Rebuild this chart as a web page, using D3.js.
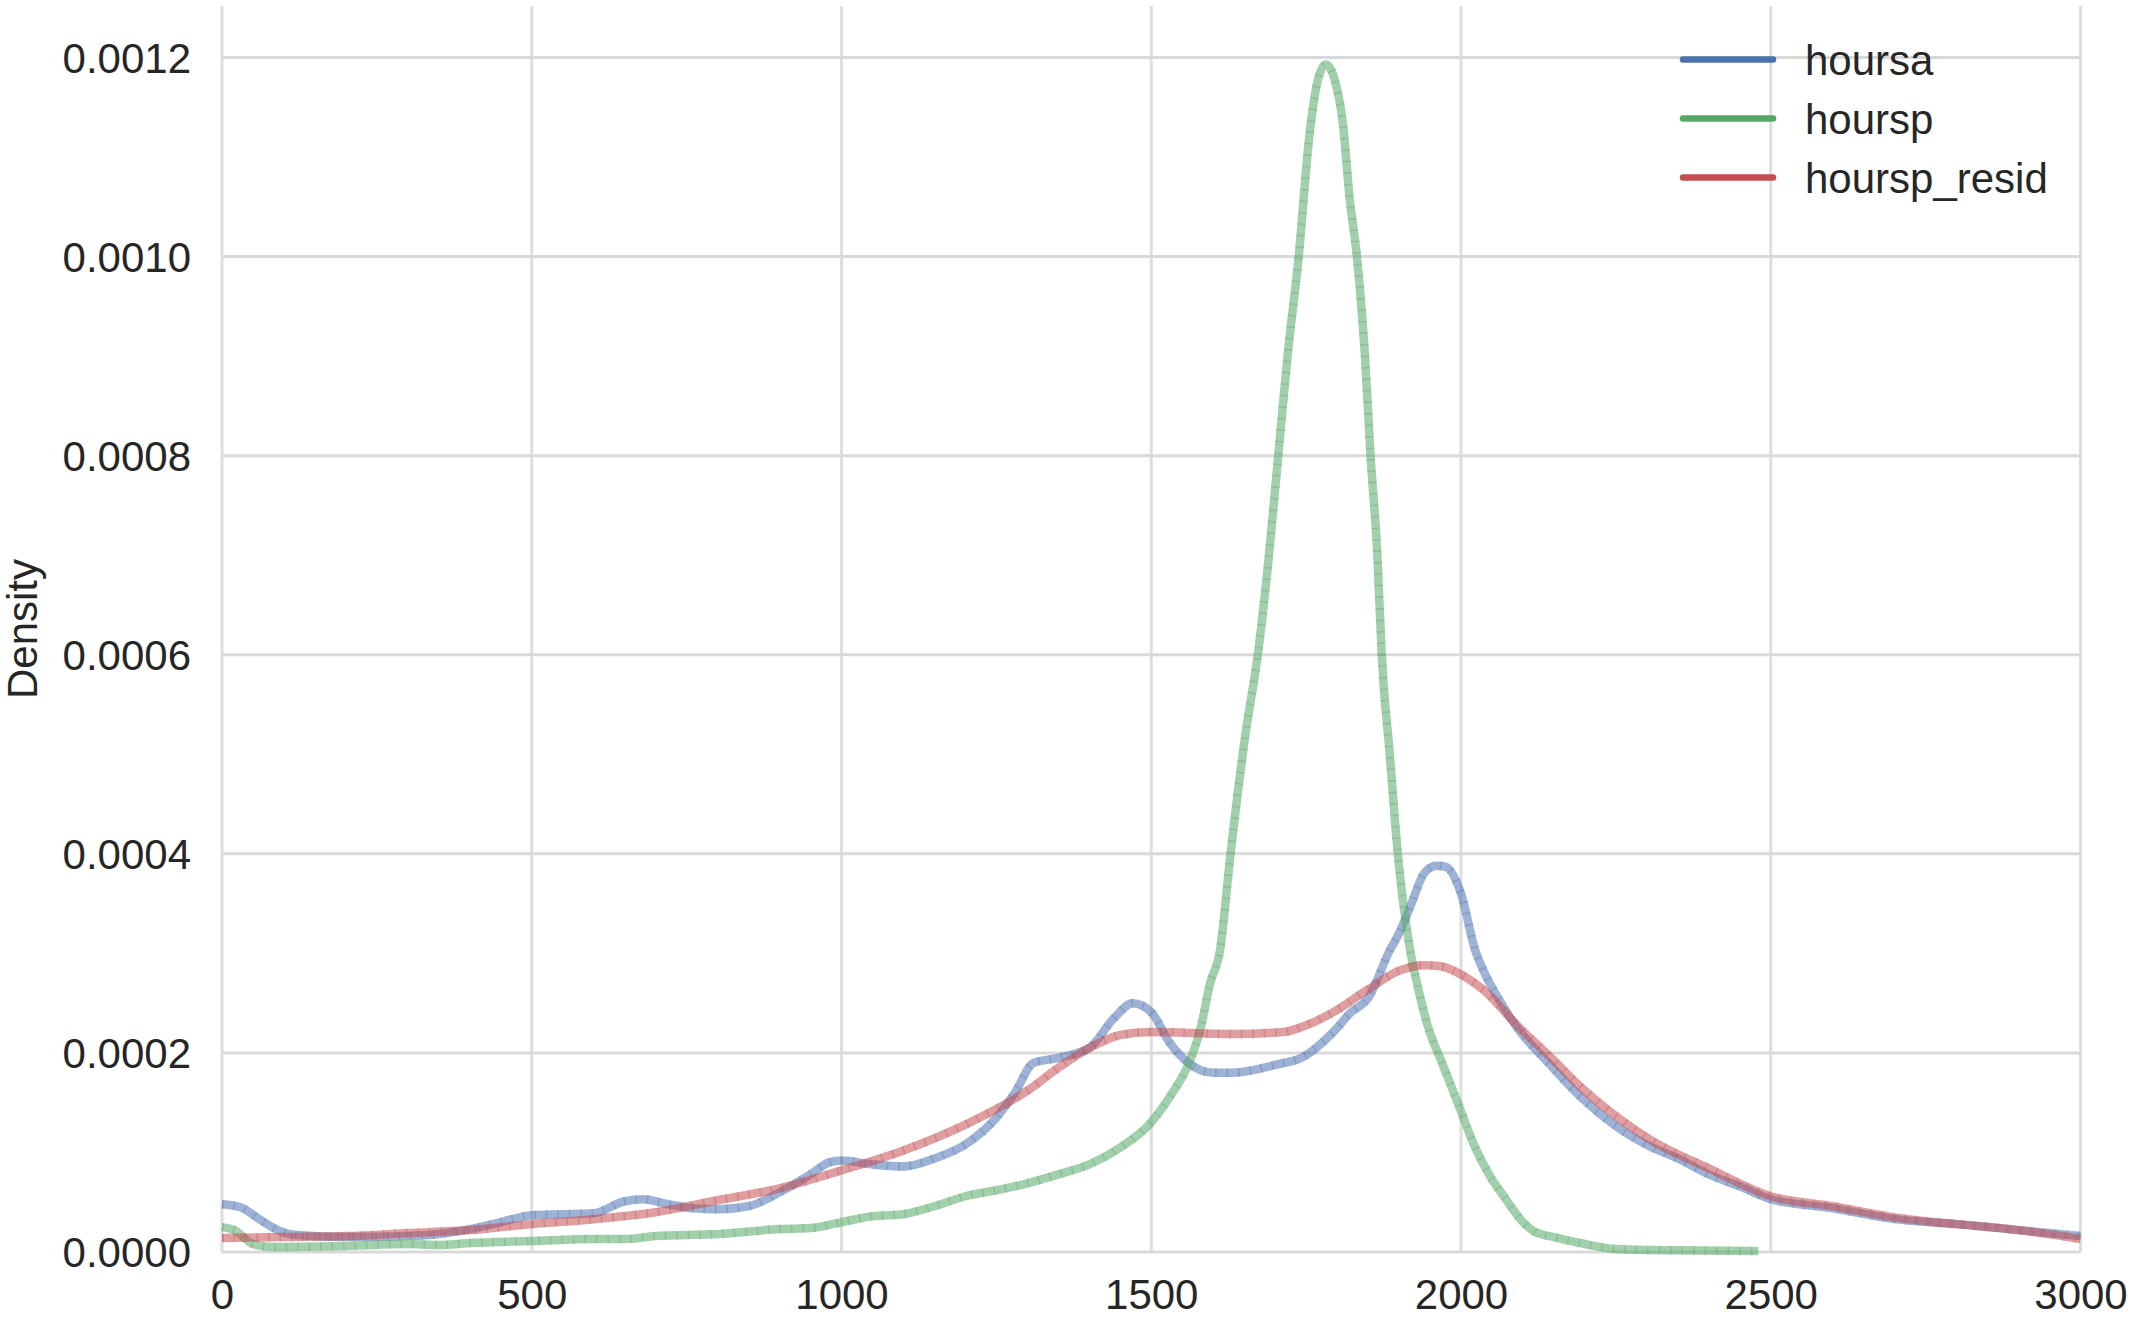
<!DOCTYPE html>
<html><head><meta charset="utf-8">
<script src="https://cdn.jsdelivr.net/npm/d3@7"></script>
<style>html,body{margin:0;padding:0;background:#fff;}svg{display:block;}</style>
</head><body>
<script>
const seriesNames = ["hoursa", "hoursp", "hoursp_resid"];
const seriesColors = ["#4c72b0", "#55a868", "#c44e52"];
const xTicks = [0, 500, 1000, 1500, 2000, 2500, 3000];
const yTicks = [0, 0.0002, 0.0004, 0.0006, 0.0008, 0.0010, 0.0012];

const hoursaX = [0,30,60,90,120,200,300,350,400,450,500,550,600,650,680,720,760,800,850,900,950,980,1000,1050,1100,1150,1200,1250,1280,1310,1350,1400,1440,1470,1500,1530,1560,1600,1627,1700,1745,1800,1821,1850,1885,1900,1920,1940,1960,1975,2000,2023,2036,2060,2090,2144,2198,2251,2305,2350,2400,2450,2500,2600,2700,2800,2870,2900,3000];
const hoursaY = [4.8e-5,4.5e-5,3.3e-5,2.2e-5,1.7e-5,1.5e-5,1.6e-5,1.8e-5,2.3e-5,3.0e-5,3.7e-5,3.8e-5,3.9e-5,5.1e-5,5.3e-5,4.8e-5,4.4e-5,4.3e-5,4.6e-5,6.0e-5,7.8e-5,9.0e-5,9.2e-5,8.8e-5,8.6e-5,9.4e-5,1.08e-4,1.35e-4,1.6e-4,1.9e-4,1.95e-4,2.05e-4,2.35e-4,2.5e-4,2.41e-4,2.1e-4,1.9e-4,1.8e-4,1.8e-4,1.88e-4,1.96e-4,2.25e-4,2.4e-4,2.55e-4,3.03e-4,3.2e-4,3.5e-4,3.8e-4,3.88e-4,3.87e-4,3.6e-4,3.03e-4,2.83e-4,2.55e-4,2.26e-4,1.88e-4,1.53e-4,1.26e-4,1.06e-4,9.4e-5,7.8e-5,6.6e-5,5.3e-5,4.4e-5,3.3e-5,2.8e-5,2.4e-5,2.2e-5,1.6e-5];

const hourspX = [0,20,50,80,200,300,350,400,500,600,650,700,800,900,950,1000,1050,1100,1150,1200,1250,1300,1350,1400,1450,1498,1530,1563,1579,1595,1611,1628,1652,1672,1690,1705,1720,1738,1755,1770,1782,1795,1810,1820,1832,1845,1854,1865,1872,1885,1898,1918,1929,1945,1972,1999,2020,2047,2069,2100,2120,2150,2200,2250,2300,2480];
const hourspY = [2.5e-5,2.2e-5,8e-6,5e-6,6e-6,8e-6,7e-6,9e-6,1.1e-5,1.3e-5,1.3e-5,1.6e-5,1.8e-5,2.3e-5,2.4e-5,3.0e-5,3.6e-5,3.8e-5,4.6e-5,5.6e-5,6.2e-5,6.9e-5,7.8e-5,8.8e-5,1.05e-4,1.29e-4,1.56e-4,1.93e-4,2.23e-4,2.7e-4,3.03e-4,4.0e-4,5.2e-4,6.0e-4,7.0e-4,8.0e-4,9.0e-4,1.0e-3,1.12e-3,1.18e-3,1.193e-3,1.18e-3,1.13e-3,1.06e-3,1.0e-3,9.0e-4,8.0e-4,7.0e-4,6.0e-4,5.0e-4,4.0e-4,3.03e-4,2.7e-4,2.3e-4,1.86e-4,1.43e-4,1.09e-4,7.6e-5,5.6e-5,3.0e-5,2.0e-5,1.5e-5,8e-6,3e-6,2e-6,1e-6];

const residX = [0,100,200,300,400,450,500,600,700,800,900,1000,1100,1200,1300,1350,1400,1450,1498,1632,1713,1751,1794,1848,1902,1940,1967,2005,2037,2090,2144,2198,2251,2305,2400,2500,2600,2709,2800,2870,2900,3000];
const residY = [1.4e-5,1.5e-5,1.6e-5,1.9e-5,2.2e-5,2.5e-5,2.8e-5,3.3e-5,4.0e-5,5.2e-5,6.4e-5,8.2e-5,1.02e-4,1.28e-4,1.62e-4,1.85e-4,2.05e-4,2.18e-4,2.21e-4,2.19e-4,2.21e-4,2.28e-4,2.41e-4,2.63e-4,2.83e-4,2.88e-4,2.87e-4,2.77e-4,2.63e-4,2.28e-4,1.96e-4,1.63e-4,1.36e-4,1.13e-4,8.4e-5,5.6e-5,4.6e-5,3.4e-5,2.8e-5,2.4e-5,2.2e-5,1.3e-5];

const W = 2133, H = 1319;
const x0 = 222, x1 = 2080.5, yBottom = 1252, yTop = 6;
const svg = d3.select("body").append("svg").attr("width", W).attr("height", H)
  .style("font-family", "Liberation Sans, Arial, Helvetica, sans-serif");

const x = d3.scaleLinear().domain([0, 3000]).range([x0, x1]);
const yPerUnit = (yBottom - 57.5) / 0.0012;
const y = d3.scaleLinear().domain([0, (yBottom - yTop) / yPerUnit]).range([yBottom, yTop]);

const grid = svg.append("g");
grid.selectAll("line.gx").data(xTicks).join("line")
  .attr("x1", d => x(d)).attr("x2", d => x(d)).attr("y1", yTop).attr("y2", yBottom)
  .attr("stroke", "#dedede").attr("stroke-width", 3);
grid.selectAll("line.gy").data(yTicks).join("line")
  .attr("x1", x0).attr("x2", x1).attr("y1", d => y(d)).attr("y2", d => y(d))
  .attr("stroke", "#d9d9d9").attr("stroke-width", 3);

const xAxis = svg.append("g").attr("transform", `translate(0,${yBottom})`)
  .call(d3.axisBottom(x).tickValues(xTicks).tickSize(0).tickPadding(0).tickFormat(d3.format("d")));
xAxis.select(".domain").remove();
xAxis.selectAll("text").attr("y", 57).attr("dy", null).attr("font-size", 42).attr("fill", "#262626")
  .style("font-family", "Liberation Sans, Arial, sans-serif");

const yAxis = svg.append("g").attr("transform", `translate(${x0},0)`)
  .call(d3.axisLeft(y).tickValues(yTicks).tickSize(0).tickPadding(31).tickFormat(d3.format(".4f")));
yAxis.select(".domain").remove();
yAxis.selectAll("text").attr("font-size", 42).attr("fill", "#262626").attr("dy", "0.35em")
  .style("font-family", "Liberation Sans, Arial, sans-serif");

svg.append("text").attr("transform", `translate(37,${(yTop + yBottom) / 2}) rotate(-90)`)
  .attr("text-anchor", "middle").attr("font-size", 42).attr("fill", "#262626").text("Density");

const seriesData = [
  d3.zip(hoursaX, hoursaY),
  d3.zip(hourspX, hourspY),
  d3.zip(residX, residY)
];
const line = d3.line().x(d => x(d[0])).y(d => y(d[1])).curve(d3.curveMonotoneX);

const lines = svg.append("g");
seriesData.forEach((data, i) => {
  lines.append("path").datum(data).attr("d", line)
    .attr("fill", "none").attr("stroke", seriesColors[i]).attr("stroke-opacity", 0.55)
    .attr("stroke-width", 8.5).attr("stroke-linejoin", "round");
  lines.append("path").datum(data).attr("d", line)
    .attr("fill", "none").attr("stroke", seriesColors[i]).attr("stroke-opacity", 0.35)
    .attr("stroke-width", 8.5).attr("stroke-dasharray", "1.5 10");
});

const legend = svg.append("g");
seriesNames.forEach((name, i) => {
  const yy = 59.5 + i * 59;
  legend.append("line").attr("x1", 1683).attr("x2", 1773).attr("y1", yy).attr("y2", yy)
    .attr("stroke", seriesColors[i]).attr("stroke-width", 6.5).attr("stroke-linecap", "round");
  legend.append("text").attr("x", 1805).attr("y", yy + 15).attr("font-size", 42)
    .attr("fill", "#262626").text(name);
});
</script>
</body></html>
